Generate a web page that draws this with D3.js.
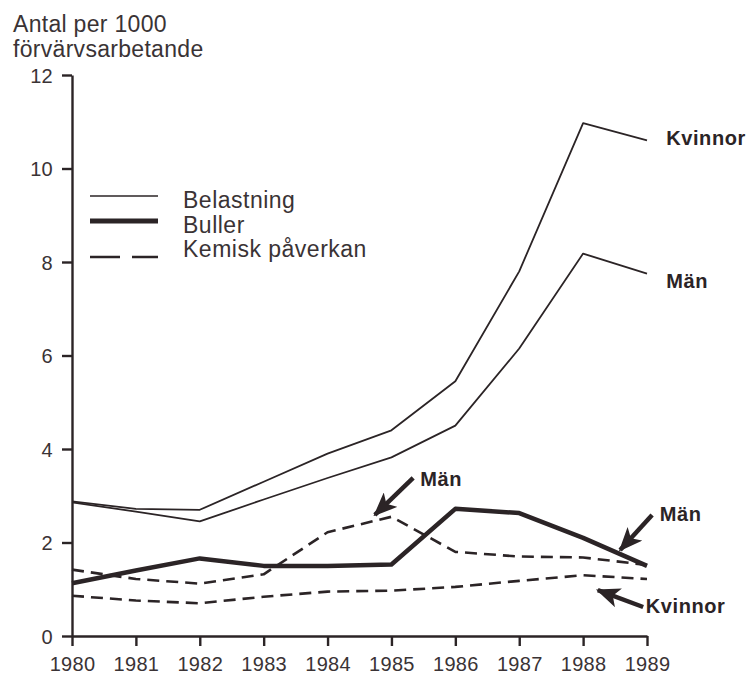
<!DOCTYPE html>
<html>
<head>
<meta charset="utf-8">
<script src="https://cdn.jsdelivr.net/npm/d3@7"></script>
<style>
    body { margin: 0; background: #fff; }
    svg { display: block; font-family: "Liberation Sans", Arial, sans-serif; }
</style>
</head>
<body>
<div id="chart"></div>
<script>
// Data
const years = [1980, 1981, 1982, 1983, 1984, 1985, 1986, 1987, 1988, 1989];
const yTicks = [0, 2, 4, 6, 8, 10, 12];
const belastningKvinnor = [2.88, 2.72, 2.70, 3.30, 3.90, 4.40, 5.45, 7.80, 10.97, 10.60];
const belastningMan = [2.86, 2.66, 2.45, 2.92, 3.38, 3.82, 4.50, 6.15, 8.18, 7.75];
const bullerMan = [1.13, 1.40, 1.66, 1.50, 1.50, 1.53, 2.72, 2.63, 2.10, 1.50];
const kemiskMan = [1.42, 1.22, 1.12, 1.32, 2.22, 2.55, 1.80, 1.70, 1.68, 1.52];
const kemiskKvinnor = [0.86, 0.76, 0.70, 0.84, 0.95, 0.97, 1.05, 1.18, 1.30, 1.22];
const legendLabels = ['Belastning', 'Buller', 'Kemisk påverkan'];

// Series labels at the line ends (year, value)
const endLabels = [
    { text: 'Kvinnor', year: 1989.3, value: 10.5 },
    { text: 'Män', year: 1989.3, value: 7.45 }
];

// Arrow annotations: tip and tail in data units
const arrowNotes = [
    { text: 'Män', tip: [1984.74, 2.59], tail: [1985.34, 3.38], label: [1985.45, 3.2] },
    { text: 'Män', tip: [1988.58, 1.84], tail: [1989.08, 2.59], label: [1989.2, 2.45] },
    { text: 'Kvinnor', tip: [1988.23, 0.98], tail: [1988.94, 0.62], label: [1988.98, 0.5] }
];

const WIDTH = 749;
const HEIGHT = 676;
const INK = '#2b2426';
const TEXT = '#3a3335';

const svg = d3.select('#chart')
    .append('svg')
    .attr('width', WIDTH)
    .attr('height', HEIGHT);

// Scales
const x = d3.scaleLinear().domain([1980, 1989]).range([72, 647]);
const y = d3.scaleLinear().domain([0, 12]).range([636, 75]);

// Axis title
const title = svg.append('text')
    .attr('fill', TEXT)
    .style('font-size', '23px')
    .style('letter-spacing', '0.3px');
title.append('tspan').attr('x', 13).attr('y', 32).text('Antal per 1000');
title.append('tspan').attr('x', 13).attr('y', 57).text('förvärvsarbetande');

// Axes
const yAxis = svg.append('g')
    .attr('transform', `translate(${x(1980)},0)`)
    .call(d3.axisLeft(y).tickValues(yTicks).tickSize(10).tickSizeOuter(0).tickPadding(9));

const xAxis = svg.append('g')
    .attr('transform', `translate(0,${y(0)})`)
    .call(d3.axisBottom(x).tickValues(years).tickFormat(d3.format('d')).tickSize(10).tickSizeOuter(0).tickPadding(11));

[xAxis, yAxis].forEach(g => {
    g.selectAll('path, line').attr('stroke', INK).attr('stroke-width', 2.4);
    g.selectAll('text')
        .attr('fill', TEXT)
        .style('font-family', '"Liberation Sans", Arial, sans-serif')
        .style('font-size', '20px')
        .style('letter-spacing', '0.3px');
});
yAxis.selectAll('text').attr('dy', '0.36em');

// Line generator
const line = d3.line()
    .x((d, i) => x(years[i]))
    .y(d => y(d));

const series = [
    { values: belastningKvinnor, width: 1.8, dash: null },
    { values: belastningMan, width: 1.8, dash: null },
    { values: kemiskMan, width: 2.6, dash: '12,7' },
    { values: kemiskKvinnor, width: 2.6, dash: '12,7' },
    { values: bullerMan, width: 4.5, dash: null }
];

svg.append('g')
    .selectAll('path')
    .data(series)
    .join('path')
    .attr('d', d => line(d.values))
    .attr('fill', 'none')
    .attr('stroke', INK)
    .attr('stroke-width', d => d.width)
    .attr('stroke-dasharray', d => d.dash)
    .attr('stroke-linejoin', 'round');

// Legend
const legendStyles = [
    { width: 1.5, dash: null, lineY: 196, textY: 208 },
    { width: 5, dash: null, lineY: 221, textY: 233 },
    { width: 2.6, dash: '30,12', lineY: 257, textY: 257 }
];
const legend = svg.append('g');
legend.selectAll('line')
    .data(legendStyles)
    .join('line')
    .attr('x1', 90)
    .attr('x2', 158)
    .attr('y1', d => d.lineY)
    .attr('y2', d => d.lineY)
    .attr('stroke', INK)
    .attr('stroke-width', d => d.width)
    .attr('stroke-dasharray', d => d.dash);
legend.selectAll('text')
    .data(legendLabels)
    .join('text')
    .attr('x', 183)
    .attr('y', (d, i) => legendStyles[i].textY)
    .attr('fill', TEXT)
    .style('font-size', '23px')
    .style('letter-spacing', '0.5px')
    .text(d => d);

// End labels
svg.append('g')
    .selectAll('text')
    .data(endLabels)
    .join('text')
    .attr('x', d => x(d.year))
    .attr('y', d => y(d.value))
    .attr('fill', INK)
    .style('font-size', '20px')
    .style('font-weight', 'bold')
    .style('letter-spacing', '0.6px')
    .text(d => d.text);

// Arrowhead marker
svg.append('defs')
    .append('marker')
    .attr('id', 'head')
    .attr('markerUnits', 'userSpaceOnUse')
    .attr('viewBox', '0 0 24 20')
    .attr('refX', 22)
    .attr('refY', 10)
    .attr('markerWidth', 24)
    .attr('markerHeight', 20)
    .attr('orient', 'auto')
    .append('path')
    .attr('d', 'M0,0 L24,10 L0,20 L6,10 Z')
    .attr('fill', INK);

const notes = svg.append('g');
notes.selectAll('line')
    .data(arrowNotes)
    .join('line')
    .attr('x1', d => x(d.tail[0]))
    .attr('y1', d => y(d.tail[1]))
    .attr('x2', d => x(d.tip[0]))
    .attr('y2', d => y(d.tip[1]))
    .attr('stroke', INK)
    .attr('stroke-width', 4.5)
    .attr('marker-end', 'url(#head)');
notes.selectAll('text')
    .data(arrowNotes)
    .join('text')
    .attr('x', d => x(d.label[0]))
    .attr('y', d => y(d.label[1]))
    .attr('fill', INK)
    .style('font-size', '20px')
    .style('font-weight', 'bold')
    .style('letter-spacing', '0.6px')
    .text(d => d.text);
</script>
</body>
</html>
